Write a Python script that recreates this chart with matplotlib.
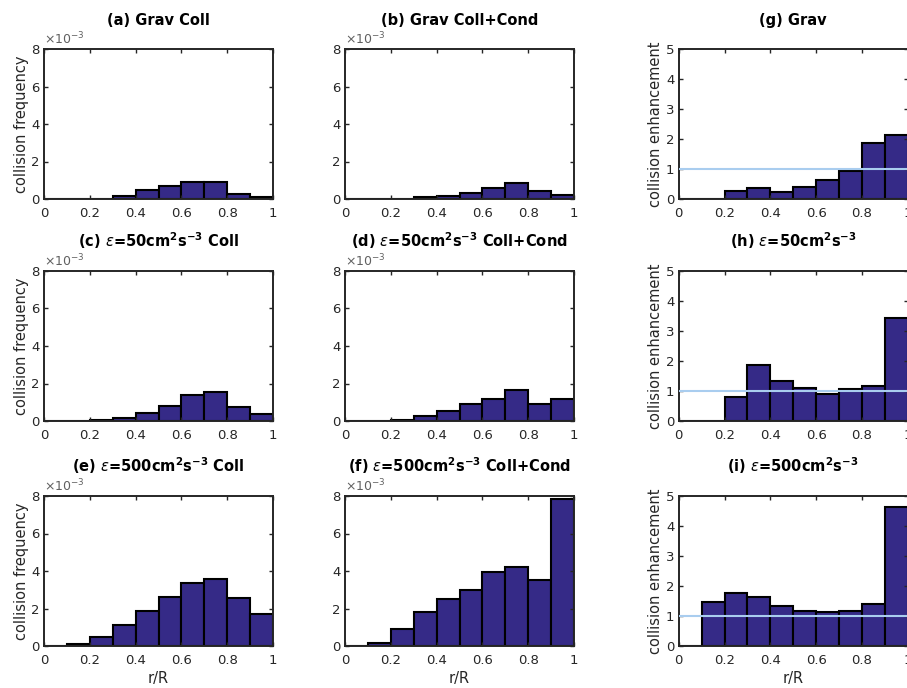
import numpy as np
import matplotlib
matplotlib.use('Agg')
import matplotlib.pyplot as plt
from matplotlib.ticker import FuncFormatter

plt.rcParams['font.family'] = ['DejaVu Sans']
plt.rcParams['mathtext.fontset'] = 'dejavusans'

# bin edges r/R
edges = np.arange(0, 1.01, 0.1)

# collision frequency (x 1e-3), gravity
grav_coll = [0, 0, 0.02, 0.14, 0.46, 0.68, 0.89, 0.91, 0.25, 0.11]
grav_cond = [0, 0, 0.02, 0.09, 0.14, 0.30, 0.57, 0.87, 0.43, 0.21]
# eps = 50
e50_coll = [0, 0, 0.05, 0.16, 0.43, 0.80, 1.38, 1.55, 0.77, 0.36]
e50_cond = [0, 0, 0.05, 0.29, 0.54, 0.93, 1.20, 1.64, 0.89, 1.20]
# eps = 500
e500_coll = [0, 0.10, 0.50, 1.14, 1.88, 2.60, 3.37, 3.59, 2.55, 1.70]
e500_cond = [0, 0.14, 0.91, 1.80, 2.50, 3.00, 3.93, 4.23, 3.54, 7.82]

# collision enhancement
enh_grav = [0, 0, 0.28, 0.37, 0.25, 0.39, 0.65, 0.94, 1.88, 2.14]
enh_e50 = [0, 0, 0.80, 1.87, 1.32, 1.11, 0.91, 1.07, 1.17, 3.44]
enh_e500 = [0, 1.46, 1.76, 1.62, 1.35, 1.16, 1.15, 1.18, 1.40, 4.64]

titles_freq = [
    ['(a) Grav Coll', '(b) Grav Coll+Cond'],
    [r'(c) $\epsilon$=50cm$^{\mathbf{2}}$s$^{\mathbf{-3}}$ Coll',
     r'(d) $\epsilon$=50cm$^{\mathbf{2}}$s$^{\mathbf{-3}}$ Coll+Cond'],
    [r'(e) $\epsilon$=500cm$^{\mathbf{2}}$s$^{\mathbf{-3}}$ Coll',
     r'(f) $\epsilon$=500cm$^{\mathbf{2}}$s$^{\mathbf{-3}}$ Coll+Cond'],
]
titles_enh = ['(g) Grav',
              r'(h) $\epsilon$=50cm$^{\mathbf{2}}$s$^{\mathbf{-3}}$',
              r'(i) $\epsilon$=500cm$^{\mathbf{2}}$s$^{\mathbf{-3}}$']

freq = [[grav_coll, grav_cond], [e50_coll, e50_cond], [e500_coll, e500_cond]]
enh = [enh_grav, enh_e50, enh_e500]

barcol = '#352a87'
axcol = '#262626'

fig = plt.figure(figsize=(9.07, 6.88), dpi=100)
lefts = [44/907, 345/907, 678.7/907]
bottoms = [1-199/688, 1-421/688, 1-646/688]
w = 229/907
h = 150/688


def style(ax):
    for s in ax.spines.values():
        s.set_linewidth(1.4)
        s.set_color(axcol)
    ax.tick_params(direction='in', top=True, right=True, labelsize=9.5,
                   colors=axcol, length=3, width=1)
    ax.tick_params(axis='x', pad=6)
    ax.tick_params(axis='y', pad=3)
    ax.set_xlim(0, 1)
    ax.set_xticks([0, 0.2, 0.4, 0.6, 0.8, 1])
    ax.xaxis.set_major_formatter(FuncFormatter(lambda v, p: f'{v:g}'))


for i in range(3):
    for j in range(2):
        ax = fig.add_axes([lefts[j], bottoms[i], w, h])
        vals = np.array(freq[i][j]) * 1e-3
        ax.bar(edges[:-1], vals, width=0.1, align='edge', color=barcol,
               edgecolor='black', linewidth=1.5)
        style(ax)
        ax.set_ylim(0, 8e-3)
        ax.set_yticks([0, 2e-3, 4e-3, 6e-3, 8e-3])
        ax.yaxis.set_major_formatter(FuncFormatter(lambda v, p: f'{v*1e3:g}'))
        ax.text(0, 1.01, r'$\times10^{-3}$', transform=ax.transAxes,
                fontsize=9, color='#606060', va='bottom', ha='left')
        ax.set_title(titles_freq[i][j], fontsize=10.5, fontweight='bold', pad=17)
        if j == 0:
            ax.set_ylabel('collision frequency', fontsize=10.5, color=axcol, labelpad=2)
        if i == 2:
            ax.set_xlabel('r/R', fontsize=10.5, color=axcol, labelpad=3)

    ax = fig.add_axes([lefts[2], bottoms[i], w, h])
    ax.bar(edges[:-1], enh[i], width=0.1, align='edge', color=barcol,
           edgecolor='black', linewidth=1.5)
    ax.axhline(1, color='#a9cdef', linewidth=1.5, zorder=5)
    style(ax)
    ax.set_ylim(0, 5)
    ax.set_yticks([0, 1, 2, 3, 4, 5])
    ax.set_title(titles_enh[i], fontsize=10.5, fontweight='bold', pad=17)
    ax.set_ylabel('collision enhancement', fontsize=10.5, color=axcol, labelpad=2)
    if i == 2:
        ax.set_xlabel('r/R', fontsize=10.5, color=axcol, labelpad=3)

fig.savefig('out.png', dpi=100)
